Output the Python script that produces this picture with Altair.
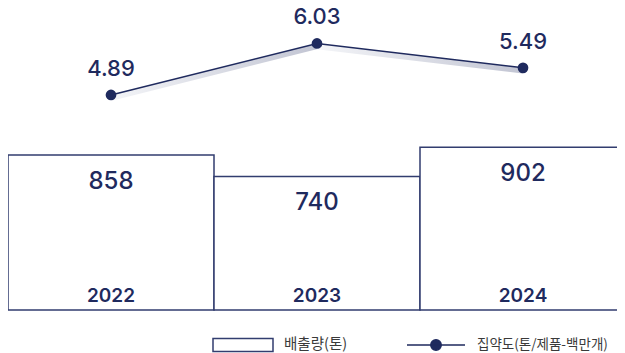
import altair as alt
import pandas as pd

# ---- data ----
years = ["2022", "2023", "2024"]
emissions = [858, 740, 902]          # 배출량(톤)
intensity = [4.89, 6.03, 5.49]       # 집약도(톤/제품-백만개)
bar_series = "배출량(톤)"
line_series = "집약도(톤/제품-백만개)"

NAVY = "#1f2a5e"
BAR_STROKE = "#323d6f"
NUM_FONT = "Inter"
KR_FONT = "Noto Sans CJK KR"

bars_df = pd.DataFrame({"year": years, "emissions": emissions, "series": bar_series})
line_df = pd.DataFrame({"year": years, "intensity": intensity, "series": line_series,
                        "label": [f"{v:.2f}" for v in intensity]})
seg_rows = []
for i in range(len(years) - 1):
    for j in (i, i + 1):
        seg_rows.append({"seg": i, "year": years[j], "intensity": intensity[j]})
seg_df = pd.DataFrame(seg_rows)

RECT_PATH = "M-1,-0.2167H1V0.2167H-1Z"
LINE_DOT_PATH = ("M-1,0H1M0.18,0A0.18,0.18,0,1,1,-0.18,0"
                 "A0.18,0.18,0,1,1,0.18,0Z")

x_enc = alt.X("year:N",
              scale=alt.Scale(domain=years, range=[0, 618], paddingInner=0, paddingOuter=0),
              axis=None)
yb = alt.Y("emissions:Q", scale=alt.Scale(domain=[0, 1673], nice=False, zero=True), axis=None)
yl = alt.Y("intensity:Q", scale=alt.Scale(domain=[0.133, 6.814], nice=False, zero=False), axis=None)

bars = alt.Chart(bars_df).mark_bar(fill="white", strokeWidth=1.5).encode(
    x=x_enc, y=yb,
    stroke=alt.Stroke("series:N", scale=alt.Scale(range=[BAR_STROKE]),
                      legend=alt.Legend(title=None, orient="none", legendX=204, legendY=306,
                                        symbolType=RECT_PATH, symbolSize=3600,
                                        symbolFillColor="white", symbolStrokeColor=BAR_STROKE,
                                        symbolStrokeWidth=1.5,
                                        labelFont=KR_FONT, labelFontSize=14.5, labelColor="#3a3a3a",
                                        labelOffset=10, padding=0)),
)
vals = alt.Chart(bars_df).mark_text(font=NUM_FONT, fontSize=24, fontWeight=500, color=NAVY,
                                    baseline="alphabetic", dy=34).encode(
    x=x_enc, y=yb, text=alt.Text("emissions:Q"))
yrs = alt.Chart(bars_df).mark_text(font=NUM_FONT, fontSize=19, fontWeight=600, color=NAVY,
                                   baseline="alphabetic", dy=-8).encode(
    x=x_enc, y=alt.datum(0), text="year:N")
bar_layer = alt.layer(bars, vals, yrs)

shadow = alt.Chart(seg_df).mark_line(
    strokeWidth=5.5, yOffset=3,
    stroke=alt.LinearGradient(gradient="linear",
                              stops=[alt.GradientStop(color="#f4f5f8", offset=0),
                                     alt.GradientStop(color="#c2c5d3", offset=1)],
                              x1=0, x2=1, y1=0, y2=0)).encode(
    x=x_enc, y=yl, detail="seg:N")
line = alt.Chart(line_df).mark_line(strokeWidth=1.5).encode(
    x=x_enc, y=yl,
    color=alt.Color("series:N", scale=alt.Scale(range=[NAVY]),
                    legend=alt.Legend(title=None, orient="none", legendX=398, legendY=307,
                                      symbolType=LINE_DOT_PATH, symbolSize=3364,
                                      symbolFillColor=NAVY, symbolStrokeColor=NAVY,
                                      symbolStrokeWidth=1.5,
                                      labelFont=KR_FONT, labelFontSize=13.5, labelColor="#3a3a3a",
                                      labelOffset=11, padding=0)))
pts = alt.Chart(line_df).mark_point(filled=True, size=115, opacity=1, shape="circle").encode(
    x=x_enc, y=yl, color=alt.Color("series:N", scale=alt.Scale(range=[NAVY])))
lbls = alt.Chart(line_df).mark_text(font=NUM_FONT, fontSize=22, fontWeight=500, color=NAVY,
                                    baseline="alphabetic", dy=-19).encode(
    x=x_enc, y=yl, text="label:N")
line_layer = alt.layer(shadow, line, pts, lbls)

chart = alt.layer(bar_layer, line_layer).resolve_scale(y="independent").properties(
    width=609, height=302,
    autosize=alt.AutoSizeParams(type="none"),
    padding={"left": 0, "top": 0, "right": 0, "bottom": 43},
).configure_view(stroke=None)

chart.save("out.html", embed_options={"renderer": "svg", "actions": False})
